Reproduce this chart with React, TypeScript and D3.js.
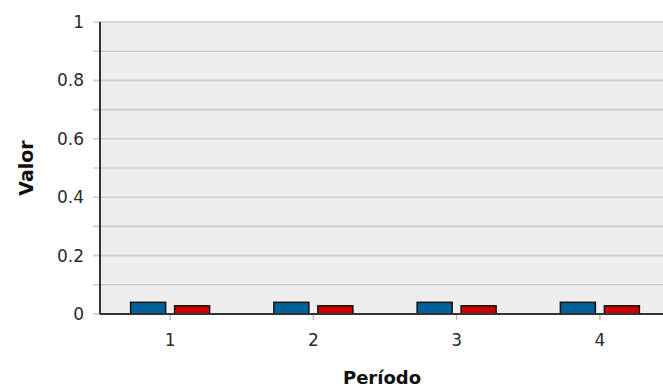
import React from "react";
import * as d3 from "d3";

const categories = ["1", "2", "3", "4"];
const seriesA = [0.04, 0.04, 0.04, 0.04];
const seriesB = [0.028, 0.028, 0.028, 0.028];
const yTicks = [0, 0.2, 0.4, 0.6, 0.8, 1];
const gridValues = [0.1, 0.2, 0.3, 0.4, 0.5, 0.6, 0.7, 0.8, 0.9, 1];

const W = 663;
const H = 388;
const left = 100;
const right = 663;
const top = 22;
const bottom = 314;

export default function App() {
  const x = d3.scaleBand<string>().domain(categories).range([98.5, 671.5]);
  const y = d3.scaleLinear().domain([0, 1]).range([bottom, top]);
  const barW = 35;
  const gap = 9;
  const font = "DejaVu Sans, sans-serif";
  return (
    <svg width={W} height={H} style={{ position: "absolute", left: 0, top: 0 }}>
      <rect x={left} y={top} width={right - left} height={bottom - top} fill="#eeeeee" />
      {gridValues.map((v) => (
        <line key={v} x1={left - 7} x2={right} y1={y(v)} y2={y(v)} stroke="#cccccc" strokeWidth={1.6} />
      ))}
      <line x1={left - 7} x2={left} y1={y(0)} y2={y(0)} stroke="#cccccc" strokeWidth={1.6} />
      {yTicks.map((v) => (
        <text key={v} x={84} y={y(v) + 6} textAnchor="end" fontSize={17} fill="#2a2a2a" fontFamily={font}>
          {d3.format("~g")(v)}
        </text>
      ))}
      {categories.map((c, i) => {
        const cx = (x(c) as number) + x.bandwidth() / 2;
        return (
          <g key={c}>
            <rect x={cx - gap / 2 - barW} y={y(seriesA[i])} width={barW} height={y(0) - y(seriesA[i])} fill="#00609a" stroke="#111" strokeWidth={1.5} />
            <rect x={cx + gap / 2} y={y(seriesB[i])} width={barW} height={y(0) - y(seriesB[i])} fill="#cc0000" stroke="#111" strokeWidth={1.5} />
            <line x1={cx} x2={cx} y1={bottom} y2={bottom + 6} stroke="#bbbbbb" strokeWidth={1.5} />
            <text x={cx} y={346} textAnchor="middle" fontSize={17} fill="#2a2a2a" fontFamily={font}>
              {c}
            </text>
          </g>
        );
      })}
      <line x1={left} x2={left} y1={top} y2={bottom} stroke="#333" strokeWidth={2} />
      <line x1={left} x2={right} y1={bottom} y2={bottom} stroke="#333" strokeWidth={2} />
      <text transform={`translate(33,${(top + bottom) / 2}) rotate(-90)`} textAnchor="middle" fontSize={19} fontWeight="bold" fill="#111" fontFamily={font}>
        Valor
      </text>
      <text x={382} y={384} textAnchor="middle" fontSize={18} fontWeight="bold" fill="#111" fontFamily={font}>
        Período
      </text>
    </svg>
  );
}
